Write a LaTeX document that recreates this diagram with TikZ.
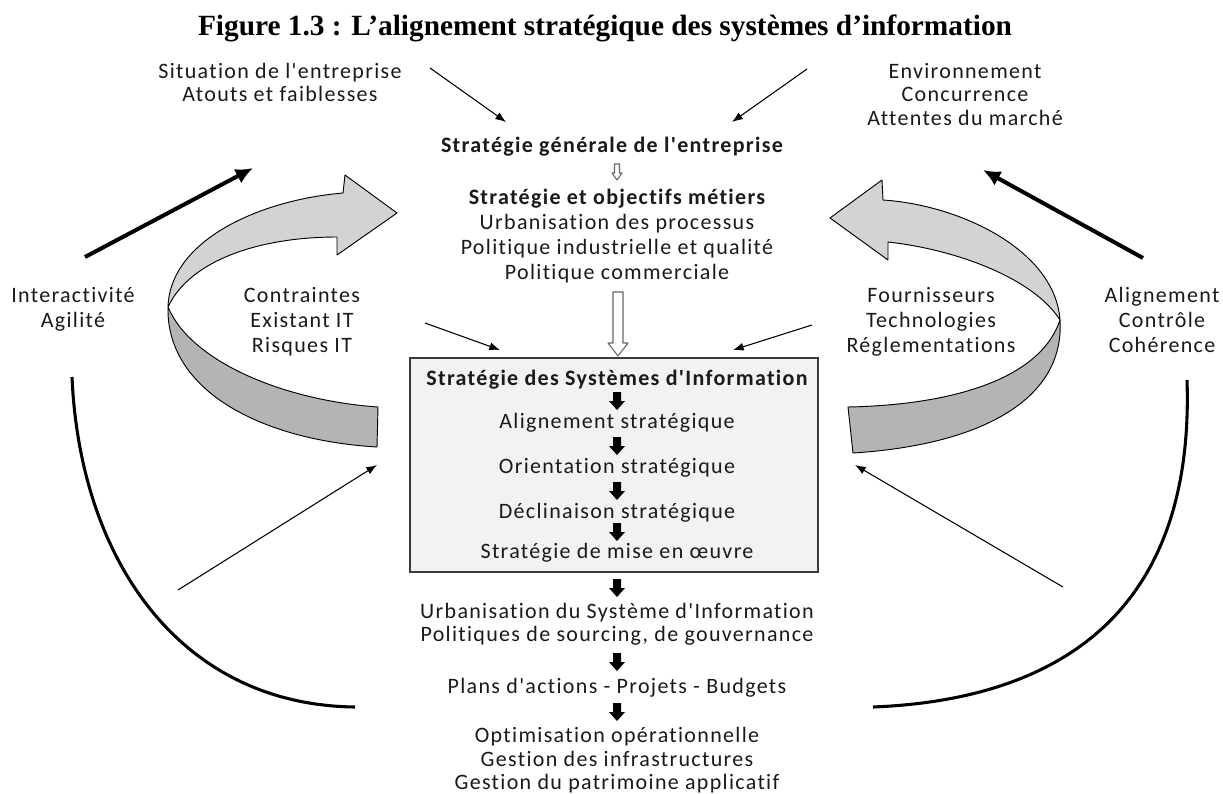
\documentclass[tikz,border=0pt]{standalone}
\usepackage{fontspec}
\newfontfamily\dfont{Carlito}[LetterSpace=6, Ligatures=NoCommon]
\newfontfamily\tfont{Liberation Serif}
\usetikzlibrary{arrows.meta}
\definecolor{ink}{HTML}{1A1A1A}
\definecolor{ribbonlight}{HTML}{D3D3D3}
\definecolor{ribbondark}{HTML}{B4B4B4}
\definecolor{boxfill}{HTML}{F2F2F2}
\definecolor{boxline}{HTML}{3A3A3A}
\begin{document}
\begin{tikzpicture}[x=0.75pt,y=-0.75pt,
  txt/.style={inner sep=0pt, anchor=base, text=ink, font=\dfont\fontsize{16.5}{19}\selectfont},
  btxt/.style={inner sep=0pt, anchor=base, text=ink, font=\dfont\bfseries\fontsize{16.5}{19}\selectfont},
  thinarrow/.style={line width=0.8pt, -{Latex[length=8pt,width=6pt]}},
  thickarrow/.style={line width=3pt, -{Latex[length=13pt,width=12pt]}},
  loopline/.style={line width=2.3pt},
  ribbon/.style={draw=black, line width=0.7pt, line join=round},
  hollow/.style={draw=black!60, fill=white, line width=0.8pt, line join=round},
  blockdown/.pic={\fill[black] (-4,-9) -- (4,-9) -- (4,0) -- (8,0) -- (0,9) -- (-8,0) -- (-4,0) -- cycle;}
]
\fill[white] (0,0) rectangle (1223,793);
\useasboundingbox (0,0) rectangle (1223,793);

% title
\node[inner sep=0pt, anchor=base, text=black, font=\tfont\bfseries\fontsize{22}{26}\selectfont] (title) at (605,35)
  {Figure 1.3 : L’alignement stratégique des systèmes d’information};

% twisted ribbon arrows
\filldraw[ribbon, fill=ribbondark] (168,307) .. controls (166,390) and (260,440) .. (377,447)
  -- (378,407) .. controls (280,400) and (190,360) .. (168,307) -- cycle;
\filldraw[ribbon, fill=ribbonlight] (343,193) -- (345,175) -- (397,213) -- (337,255) -- (337,237)
  .. controls (260,237) and (190,260) .. (168,307)
  .. controls (170,240) and (260,200) .. (343,193) -- cycle;
\filldraw[ribbon, fill=ribbondark] (1060,320) .. controls (1065,400) and (980,445) .. (853,453)
  -- (848,407) .. controls (950,405) and (1040,380) .. (1060,320) -- cycle;
\filldraw[ribbon, fill=ribbonlight] (883,200) -- (882,180) -- (830,218) -- (888,260) -- (888,242)
  .. controls (960,250) and (1035,280) .. (1060,320)
  .. controls (1055,250) and (960,205) .. (883,200) -- cycle;

% central box
\node[draw=boxline, fill=boxfill, line width=1.1pt, inner sep=0pt,
      minimum width=306pt, minimum height=160.5pt] (sis) at (614,465) {};

% top corner texts
\node[txt] (sit1) at (280,78) {Situation de l'entreprise};
\node[txt] (sit2) at (280,101.5) {Atouts et faiblesses};
\node[txt] (env1) at (965,78) {Environnement};
\node[txt] (env2) at (965,101.5) {Concurrence};
\node[txt] (env3) at (965,125) {Attentes du marché};

% business strategy
\node[btxt] (sg) at (612,152) {Stratégie générale de l'entreprise};
\node[btxt] (sm) at (617,204) {Stratégie et objectifs métiers};
\node[txt] (sm1) at (617,229) {Urbanisation des processus};
\node[txt] (sm2) at (617,254) {Politique industrielle et qualité};
\node[txt] (sm3) at (617,279) {Politique commerciale};

% side labels
\node[txt] (ia1) at (73,302) {Interactivité};
\node[txt] (ia2) at (73,327) {Agilité};
\node[txt] (ct1) at (302,302) {Contraintes};
\node[txt] (ct2) at (302,327) {Existant IT};
\node[txt] (ct3) at (302,352) {Risques IT};
\node[txt] (fo1) at (931,302) {Fournisseurs};
\node[txt] (fo2) at (931,327) {Technologies};
\node[txt] (fo3) at (931,352) {Réglementations};
\node[txt] (al1) at (1162,302) {Alignement};
\node[txt] (al2) at (1162,327) {Contrôle};
\node[txt] (al3) at (1162,352) {Cohérence};

% information systems strategy (inside the box)
\node[btxt] (s0) at (617,385) {Stratégie des Systèmes d'Information};
\node[txt] (s1) at (617,428) {Alignement stratégique};
\node[txt] (s2) at (617,473) {Orientation stratégique};
\node[txt] (s3) at (617,518) {Déclinaison stratégique};
\node[txt] (s4) at (617,558) {Stratégie de mise en œuvre};
\pic at (617,401) {blockdown};
\pic at (617,446) {blockdown};
\pic at (617,491) {blockdown};
\pic at (617,532) {blockdown};

% implementation chain
\pic at (617,588) {blockdown};
\node[txt] (u1) at (617,618) {Urbanisation du Système d'Information};
\node[txt] (u2) at (617,641) {Politiques de sourcing, de gouvernance};
\pic at (617,662) {blockdown};
\node[txt] (p1) at (617,693) {Plans d'actions - Projets - Budgets};
\pic at (617,712) {blockdown};
\node[txt] (o1) at (617,742) {Optimisation opérationnelle};
\node[txt] (o2) at (617,766) {Gestion des infrastructures};
\node[txt] (o3) at (617,789) {Gestion du patrimoine applicatif};

% hollow arrows between the strategy levels
\filldraw[hollow] (614.5,164) -- (619.5,164) -- (619.5,173) -- (622,173) -- (617,180) -- (612,173) -- (614.5,173) -- cycle;
\filldraw[hollow] (613,292) -- (623,292) -- (623,343) -- (628,343) -- (618,356) -- (608,343) -- (613,343) -- cycle;

% thin influence arrows
\coordinate (t1a) at (430,68);   \coordinate (t1b) at (506,122);
\coordinate (t2a) at (807,69);   \coordinate (t2b) at (732,122);
\coordinate (t3a) at (425,323);  \coordinate (t3b) at (500,350);
\coordinate (t4a) at (812,325);  \coordinate (t4b) at (733,350);
\coordinate (t5a) at (178,590);  \coordinate (t5b) at (377,465);
\coordinate (t6a) at (1063,587); \coordinate (t6b) at (855,465);
\draw[thinarrow] (t1a) -- (t1b);
\draw[thinarrow] (t2a) -- (t2b);
\draw[thinarrow] (t3a) -- (t3b);
\draw[thinarrow] (t4a) -- (t4b);
\draw[thinarrow] (t5a) -- (t5b);
\draw[thinarrow] (t6a) -- (t6b);

% thick feedback arrows
\coordinate (k1a) at (85,257);   \coordinate (k1b) at (253,168);
\coordinate (k2a) at (1143,258); \coordinate (k2b) at (983,170);
\draw[thickarrow] (k1a) -- (k1b);
\draw[thickarrow] (k2a) -- (k2b);

% outer loops
\coordinate (l1a) at (72,377);   \coordinate (l1b) at (355,707);
\coordinate (l2a) at (1187,380); \coordinate (l2b) at (873,707);
\draw[loopline] (l1a) .. controls (80,560) and (180,705) .. (l1b);
\draw[loopline] (l2a) .. controls (1195,620) and (1050,700) .. (l2b);
\end{tikzpicture}
\end{document}
